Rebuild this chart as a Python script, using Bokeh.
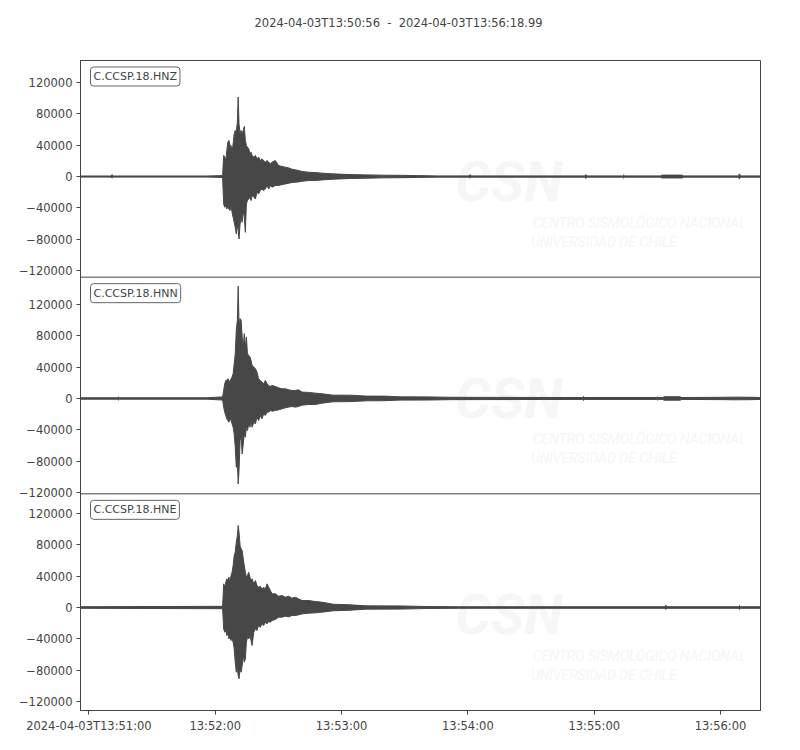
from bokeh.plotting import figure
from bokeh.models import FixedTicker, Label, Range1d, Span, Title
from bokeh.embed import file_html
from bokeh.resources import INLINE

# ---------------- data ----------------
TITLE = "2024-04-03T13:50:56  -  2024-04-03T13:56:18.99"
T_END = 322.99  # seconds after 13:50:56

trace_ids = ["C.CCSP.18.HNZ", "C.CCSP.18.HNN", "C.CCSP.18.HNE"]

x_ticks = [4, 64, 124, 184, 244, 304]
x_tick_labels = ["2024-04-03T13:51:00", "13:52:00", "13:53:00",
                 "13:54:00", "13:55:00", "13:56:00"]

y_ticks = [-120000, -80000, -40000, 0, 40000, 80000, 120000]
y_tick_labels = ["\u2212120000", "\u221280000", "\u221240000", "0",
                 "40000", "80000", "120000"]

# lower y-limit of each panel; all panels share the same span
y_lows = [-128000, -121300, -131000]
Y_SPAN = 275600

# HNZ envelope: time (s after start), upper, lower (counts)
hnz_t = [0, 14.5, 15, 15.5, 40, 60, 67.5,
         68.0, 68.5, 69.0, 69.5, 70.0, 70.5, 71.0, 71.5, 72.0, 72.5, 73.0, 73.5,
         74.0, 74.5, 74.9, 75.3, 75.8, 76.3, 76.8, 77.3, 77.8, 78.3, 78.8, 79.3,
         79.9, 80.5, 81.0, 81.5, 82.3, 83.1, 83.8, 84.6, 85.4, 86.2, 87.0, 87.8,
         88.6, 89.4, 90.2, 91.0, 92.5, 94.1, 95.7, 97.3, 98.9, 100.4, 102.0,
         103.6, 105.2, 108.4, 111.5, 114.7, 120, 128, 136, 144, 152, 160, 170,
         184.5, 185, 185.5, 239.5, 240, 240.5, 257.5, 258, 258.5, 275.8, 276,
         286, 286.2, 312.5, 313, 313.5, 323]
hnz_up = [700, 700, 2500, 700, 700, 700, 1200,
          26800, 24700, 20400, 33200, 43800, 45900, 39500, 39500, 31000, 41600, 54400, 58600,
          56500, 69300, 101200, 67200, 54400, 58600, 54400, 58600, 63800, 45900, 39500, 37400,
          35300, 28900, 31000, 26800, 24700, 26800, 22500, 24700, 20400, 22500, 20400, 18300,
          20400, 18300, 16200, 18300, 20400, 14000, 12800, 11900, 11000, 9400, 8500,
          7700, 6400, 5500, 5100, 4300, 3400, 2500, 2100, 1700, 1500, 1200, 800,
          800, 2500, 800, 800, 2500, 800, 800, 2000, 800, 800, 1800,
          1800, 800, 800, 3500, 800, 800]
hnz_lo = [-700, -700, -2000, -700, -700, -700, -1200,
          -34900, -39100, -37000, -41200, -39100, -41200, -43400, -37000, -45500, -51900, -58200, -64600,
          -73100, -60400, -68900, -79500, -60400, -51900, -58200, -43400, -51900, -71000, -34900, -30600,
          -28500, -26400, -30600, -24200, -26400, -28500, -20000, -22100, -17900, -15700, -17900, -15700,
          -11500, -15700, -11500, -13600, -11500, -11500, -10200, -9400, -8500, -7700, -7200,
          -6800, -6000, -5100, -5100, -4300, -3400, -2500, -2100, -1700, -1500, -1200, -800,
          -800, -2000, -800, -800, -2500, -800, -800, -2000, -800, -800, -1800,
          -1800, -800, -800, -3000, -800, -800]

# HNN envelope
hnn_t = [0, 17.5, 18, 18.5, 60, 67.5,
         68.0, 68.5, 69.0, 69.5, 70.0, 70.5, 71.0, 71.5, 72.0, 72.5, 73.0, 73.5,
         74.0, 74.5, 74.9, 75.3, 75.8, 76.3, 76.8, 77.3, 77.8, 78.3, 78.8, 79.3,
         79.9, 80.5, 81.0, 81.5, 82.3, 83.1, 83.8, 84.6, 85.4, 86.2, 87.0, 87.8,
         88.6, 89.4, 90.2, 91.0, 92.5, 94.1, 95.7, 97.3, 98.9, 100.4, 102.0,
         103.6, 105.2, 108.4, 111.5, 114.7, 120, 128, 136, 144, 152, 165, 176,
         238.5, 239, 239.5, 273.5, 274, 274.5, 276.8, 277, 285, 285.2, 305, 312, 319, 323]
hnn_up = [900, 900, 2000, 900, 900, 2000,
          10200, 18700, 23000, 23000, 25100, 23000, 20800, 25100, 27200, 31500, 44200, 57000,
          86700, 99500, 142800, 95200, 101600, 99500, 78200, 65500, 82500, 65500, 78200, 57000,
          54800, 52700, 48500, 42100, 40000, 37800, 33600, 25100, 23000, 20800, 18700, 23000,
          18700, 16600, 15300, 16600, 15300, 13600, 12300, 12300, 11000, 10200, 10200,
          11000, 8100, 7700, 6800, 6000, 4200, 4200, 3000, 3000, 2100, 2000, 1500,
          1200, 2500, 1200, 1200, 2000, 1200, 1200, 2200, 2200, 1200, 1500, 1700, 1500, 1200]
hnn_lo = [-900, -900, -2000, -900, -900, -2000,
          -11000, -17400, -21700, -25900, -28100, -30200, -25900, -28100, -32300, -36600, -45100, -62100,
          -87600, -81200, -108800, -91800, -53600, -49300, -70600, -57800, -45100, -49300, -36600, -40800,
          -32300, -36600, -28100, -36600, -30200, -32300, -23800, -28100, -21700, -25900, -19600, -21700,
          -17400, -17400, -15300, -16200, -15300, -14500, -13200, -11900, -11000, -10200, -11000,
          -10200, -8500, -7700, -7700, -6000, -4200, -4000, -3000, -2800, -2100, -2000, -1500,
          -1200, -2500, -1200, -1200, -2000, -1200, -1200, -2200, -2200, -1200, -1500, -1700, -1500, -1200]

# HNE envelope
hne_t = [0, 67.5,
         68.0, 68.5, 69.0, 69.5, 70.0, 70.5, 71.0, 71.5, 72.0, 72.5, 73.0, 73.5,
         74.0, 74.5, 74.9, 75.3, 75.8, 76.3, 76.8, 77.3, 77.8, 78.3, 78.8, 79.3,
         79.9, 80.5, 81.0, 81.5, 82.3, 83.1, 83.8, 84.6, 85.4, 86.2, 87.0, 87.8,
         88.6, 89.4, 90.2, 91.0, 92.5, 94.1, 95.7, 97.3, 98.9, 100.4, 102.0,
         103.6, 105.2, 108.4, 111.5, 114.7, 120, 128, 136, 152, 164, 180,
         277.5, 278, 278.5, 312.5, 313, 313.5, 323]
hne_up = [1000, 1500,
          30100, 25900, 32200, 36500, 34300, 38600, 32200, 40700, 44900, 53400, 66100, 70400,
          83100, 91600, 104300, 95800, 78900, 74600, 72500, 61900, 53400, 44900, 38600, 40700,
          44900, 38600, 34300, 36500, 30100, 34300, 28000, 25900, 27100, 23700, 25900, 23700,
          30100, 25900, 21600, 17400, 17400, 14400, 15300, 13100, 14400, 11900, 13100,
          11000, 8900, 8900, 7600, 6800, 4200, 3400, 2100, 2000, 1300, 1000,
          1000, 3000, 1000, 1000, 2500, 1000, 1000]
hne_lo = [-1000, -1500,
          -27100, -31400, -29300, -35600, -33500, -39900, -37700, -42000, -39900, -44100, -52600, -69500,
          -82300, -75900, -86500, -90700, -78000, -82300, -73800, -61100, -69500, -65300, -44100, -37700,
          -39900, -35600, -42000, -48300, -31400, -27100, -29300, -22900, -25000, -20800, -22900, -18700,
          -20800, -17800, -18700, -16500, -15300, -12300, -12300, -11000, -11900, -10200, -10200,
          -9300, -8100, -7200, -6800, -5900, -4200, -3400, -2100, -2000, -1300, -1000,
          -1000, -2500, -1000, -1000, -2500, -1000, -1000]

traces = [(hnz_t, hnz_up, hnz_lo), (hnn_t, hnn_up, hnn_lo), (hne_t, hne_up, hne_lo)]

# ---------------- style ----------------
INK = "#444444"
TRACE = "#474747"
FONT = "DejaVu Sans"
WM = "#f6f6f6"
N = len(traces)
FRAME_W, FRAME_H = 680, 650
BORDER_L, BORDER_T = 80, 60
Y_TOTAL = N * Y_SPAN
px_x = T_END / FRAME_W      # data units per pixel (x)
px_y = Y_TOTAL / FRAME_H    # display units per pixel (y)

# One frame holding the three stacked panels; each trace gets its own y scale.
p = figure(frame_width=FRAME_W, frame_height=FRAME_H,
           x_range=Range1d(0, T_END), y_range=Range1d(0, Y_TOTAL),
           output_backend="svg", toolbar_location=None,
           min_border_left=BORDER_L, min_border_right=20,
           min_border_top=BORDER_T, min_border_bottom=30)
p.xgrid.visible = False
p.ygrid.visible = False
p.outline_line_color = INK
p.outline_line_width = 1
p.outline_line_alpha = 1.0
p.background_fill_color = "white"
p.border_fill_color = "white"

# spacer (closest to the frame) then the page title above it
p.add_layout(Title(text=" ", text_font_size="11.5px", standoff=4), "above")
p.add_layout(Title(text=TITLE.replace("  ", " \u00a0"), align="left", offset=174,
                   vertical_align="middle", standoff=24, text_font=FONT,
                   text_font_size="11.5px", text_font_style="normal",
                   text_color=INK), "above")

for ax in list(p.yaxis) + list(p.xaxis):
    ax.axis_line_color = INK
    ax.major_tick_line_color = INK
    ax.major_tick_in = 0
    ax.major_tick_out = 4
    ax.minor_tick_line_color = None
    ax.major_label_text_font = FONT
    ax.major_label_text_font_size = "11.5px"
    ax.major_label_text_color = INK
    ax.major_label_standoff = 4

p.xaxis.ticker = FixedTicker(ticks=x_ticks)
p.xaxis.major_label_overrides = dict(zip(x_ticks, x_tick_labels))

# y ticks of every panel placed on the shared left axis
tick_pos, tick_txt = [], []
for i in range(N):
    band = N - 1 - i  # panel 0 is on top
    for v, s in zip(y_ticks, y_tick_labels):
        tick_pos.append(band * Y_SPAN + (v - y_lows[i]))
        tick_txt.append(s)
p.yaxis.ticker = FixedTicker(ticks=tick_pos)
p.yaxis.major_label_overrides = dict(zip(tick_pos, tick_txt))

for i, (tt, up, lo) in enumerate(traces):
    band = N - 1 - i
    name = "panel%d" % i
    p.extra_y_ranges[name] = Range1d(y_lows[i] - band * Y_SPAN,
                                     y_lows[i] + (N - band) * Y_SPAN)
    if band > 0:
        p.add_layout(Span(location=band * Y_SPAN, dimension="width",
                          line_color=INK, line_width=1))

    base = band * Y_SPAN
    # faint watermark
    p.add_layout(Label(x=0.551 * T_END, y=base + 0.44 * Y_SPAN, text="CSN",
                       text_font="Roboto", text_font_size="56px",
                       text_font_style="bold italic", text_color=WM,
                       text_baseline="middle", level="underlay"))
    p.add_layout(Label(x=0.665 * T_END, y=base + 0.251 * Y_SPAN,
                       text="CENTRO SISMOLÓGICO NACIONAL",
                       text_font="Roboto", text_font_size="14px",
                       text_font_style="italic", text_color=WM,
                       text_baseline="middle", level="underlay"))
    p.add_layout(Label(x=0.662 * T_END, y=base + 0.164 * Y_SPAN,
                       text="UNIVERSIDAD DE CHILE",
                       text_font="Roboto", text_font_size="14px",
                       text_font_style="italic", text_color=WM,
                       text_baseline="middle", level="underlay"))

    # waveform envelope on this panel's own y scale
    p.varea(x=tt, y1=lo, y2=up, fill_color=TRACE, fill_alpha=1.0, y_range_name=name)
    p.line(tt, up, line_color=TRACE, line_width=1, y_range_name=name)
    p.line(tt, lo, line_color=TRACE, line_width=1, y_range_name=name)

    # trace id box
    p.add_layout(Label(x=10 * px_x, y=base + Y_SPAN - 6.5 * px_y,
                       text=trace_ids[i], text_font=FONT, text_font_size="11px",
                       text_color=INK, text_align="left", text_baseline="top",
                       background_fill_color="white", border_line_color="#666666",
                       border_line_width=1, padding=3, border_radius=3))

open("out.html", "w").write(file_html(p, INLINE))
